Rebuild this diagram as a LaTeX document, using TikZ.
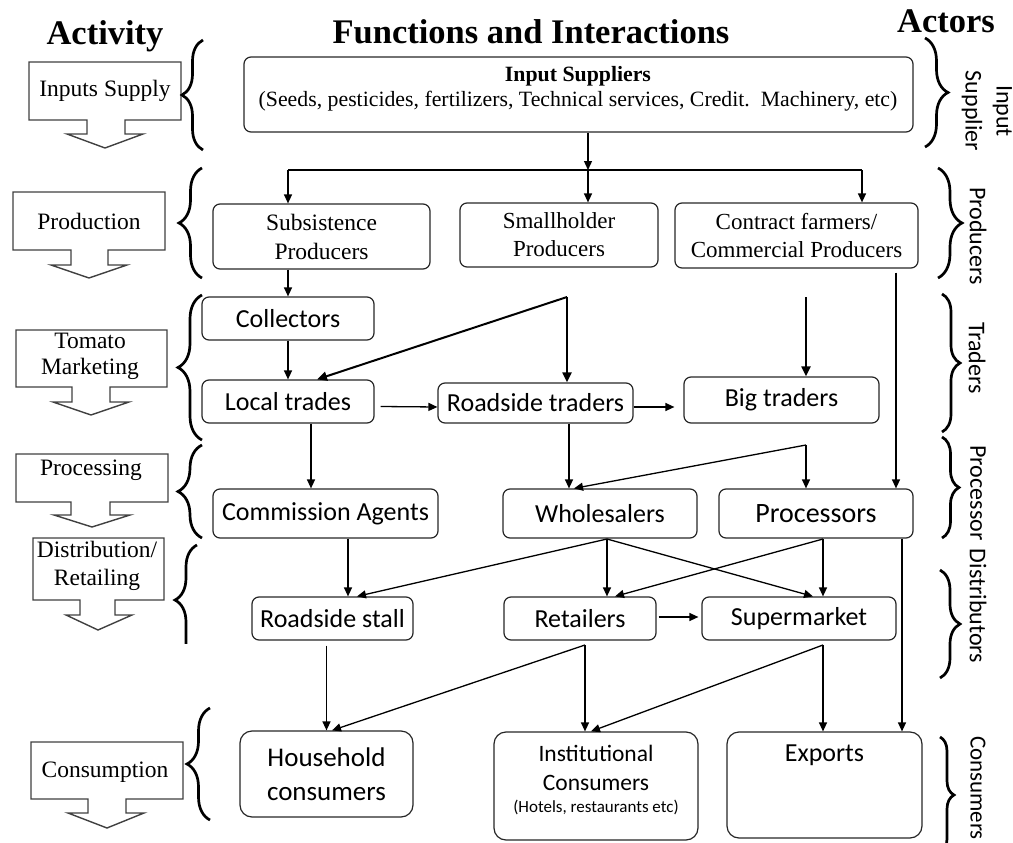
\documentclass[tikz,border=0pt]{standalone}
\usepackage{fontspec}
\setmainfont{Liberation Serif}
\newfontfamily\calibri{Carlito}
\usetikzlibrary{arrows.meta,decorations.pathreplacing,calc}
\begin{document}
\begin{tikzpicture}[x=1pt,y=-1pt,
  box/.style={draw=black!85, line width=1.2pt, rounded corners=7pt, inner sep=0pt, align=center},
  cal/.style={font=\calibri\fontsize{26}{31}\selectfont},
  tms/.style={font=\fontsize{23.5}{28}\selectfont, align=center, inner sep=0pt},
  arr/.style={line width=1.3pt, -{Triangle[length=9pt,width=8pt]}},
  tarr/.style={line width=2pt, -{Triangle[length=10pt,width=9pt]}},
  ln/.style={line width=1.3pt},
  actshape/.style={draw=black!75, line width=1.4pt, fill=white},
  brc/.style={decorate, decoration={brace,amplitude=#1}, line width=2.7pt},
  rl/.style={font=\calibri\fontsize{24}{31}\selectfont, rotate=-90, align=center, inner sep=0pt},
  hdr/.style={font=\bfseries\fontsize{34.5}{38}\selectfont, anchor=base, inner sep=0pt}
]
\useasboundingbox (0,0) rectangle (1013,843);
\clip (0,0) rectangle (1013,843);

% headers
\node[hdr] (hAct) at (105,45) {Activity};
\node[hdr] (hFun) at (531,44) {Functions and Interactions};
\node[hdr] (hAct2) at (946,33) {Actors};

% activity shapes
\draw[actshape] (29,62) -- (181,62) -- (181,120) -- (125,120) -- (125,134) -- (143,134) -- (105,148) -- (67,134) -- (87,134) -- (87,120) -- (29,120) -- cycle;
\node[tms] (actA) at (105,91) {Inputs Supply};
\draw[actshape] (13,192) -- (165,192) -- (165,250) -- (108,250) -- (108,265) -- (127,265) -- (89,278) -- (51,265) -- (71,265) -- (71,250) -- (13,250) -- cycle;
\node[tms] (actB) at (89,221) {Production};
\draw[actshape] (16,330) -- (167,330) -- (167,387) -- (110,387) -- (110,402) -- (129,402) -- (91,415) -- (53,402) -- (72,402) -- (72,387) -- (16,387) -- cycle;
\node[tms, font=\fontsize{23.5}{26}\selectfont] (actC) at (90,356) {Tomato\\Marketing};
\draw[actshape] (16,454) -- (168,454) -- (168,502) -- (110,502) -- (110,515) -- (130,515) -- (92,527) -- (54,515) -- (71,515) -- (71,502) -- (16,502) -- cycle;
\node[tms] (actD) at (91,470) {Processing};
\draw[actshape] (33,538) -- (164,538) -- (164,600) -- (115,600) -- (115,615) -- (132,615) -- (98,630) -- (66,615) -- (80,615) -- (80,600) -- (33,600) -- cycle;
\node[tms] (actE) at (97,566) {Distribution/\\Retailing};
\draw[actshape] (31,742) -- (183,742) -- (183,799) -- (126,799) -- (126,813) -- (144,813) -- (107,828) -- (68,813) -- (88,813) -- (88,799) -- (31,799) -- cycle;
\node[tms] (actF) at (105,772) {Consumption};

% left braces
\draw[brc=21pt] (203,150) -- (203,40);
\draw[brc=23pt] (202,278) -- (202,168);
\draw[brc=24pt] (202,440) -- (202,295);
\draw[brc=24pt] (202,538) -- (202,445);
\begin{scope}
\clip (150,540) rectangle (230,643);
\draw[decorate, decoration={brace,amplitude=22pt,aspect=0.645}, line width=2.7pt] (197,700) -- (197,545);
\end{scope}
\draw[brc=23pt] (210,820) -- (210,708);

% right braces
\draw[brc=23pt] (925,38) -- (925,147);
\draw[brc=24pt] (938,168) -- (938,278);
\draw[brc=18pt] (942,294) -- (942,432);
\draw[brc=17pt] (942,437) -- (942,538);
\draw[brc=20pt] (940,570) -- (940,678);
\draw[brc=14pt] (940,737) -- (940,853);

% right labels
\node[rl] (lIn) at (987,111) {Input\\Supplier};
\node[rl] (lPr) at (978,236) {Producers};
\node[rl] (lTr) at (977,358) {Traders};
\node[rl] (lPc) at (978,493) {Processor};
\node[rl] (lDi) at (978,606) {Distributors};
\node[rl, font=\calibri\fontsize{23}{28}\selectfont] (lCo) at (978,788) {Consumers};

% main boxes
\node[box, minimum width=669pt, minimum height=75pt] (insup) at (578.5,94.5) {};
\node[align=center, inner sep=0pt, font=\fontsize{21.8}{25}\selectfont] (insuptxt) at (578,89) {\textbf{Input Suppliers}\\(Seeds, pesticides, fertilizers, Technical services, Credit.\ \ Machinery, etc)};
\node[box, tms, minimum width=217pt, minimum height=65pt, font=\fontsize{23.5}{29}\selectfont] (subs) at (321.5,236.5) {Subsistence\\Producers};
\node[box, tms, minimum width=198pt, minimum height=64pt, font=\fontsize{23}{28}\selectfont] (small) at (559,235) {Smallholder\\Producers};
\node[box, minimum width=243pt, minimum height=65pt, font=\fontsize{23}{28}\selectfont] (contr) at (796.5,235.5) {Contract farmers/\\Commercial Producers};

\node[box, cal, minimum width=172pt, minimum height=43pt] (coll) at (288,318.5) {Collectors};
\node[box, cal, minimum width=172pt, minimum height=43pt] (local) at (288,401.5) {Local trades};
\node[box, cal, minimum width=195pt, minimum height=40pt] (road) at (535.5,403) {Roadside traders};
\node[box, cal, minimum width=195pt, minimum height=46pt] (big) at (781.5,400) {Big traders};
\node[box, cal, minimum width=225pt, minimum height=49pt] (comm) at (325.5,513.5) {Commission Agents};
\node[box, cal, minimum width=194pt, minimum height=49pt] (whole) at (600,513.5) {Wholesalers};
\node[box, minimum width=194pt, minimum height=49pt, font=\calibri\fontsize{28}{32}\selectfont] (proc) at (816,513.5) {Processors};
\node[box, cal, minimum width=161pt, minimum height=43pt] (stall) at (332.5,618.5) {Roadside stall};
\node[box, cal, minimum width=152pt, minimum height=43pt] (ret) at (580,618.5) {Retailers};
\node[box, cal, minimum width=194pt, minimum height=43pt] (sup) at (799,618.5) {Supermarket};
\node[box, minimum width=173pt, minimum height=86pt, rounded corners=12pt, font=\calibri\fontsize{27}{34}\selectfont] (house) at (326.5,774) {Household\\consumers};
\node[box, minimum width=204pt, minimum height=108pt, rounded corners=12pt] (inst) at (596,786) {};
\node[align=center, inner sep=0pt, font=\calibri\fontsize{23.5}{29}\selectfont] (insttxt) at (596,768) {Institutional\\Consumers};
\node[inner sep=0pt, font=\calibri\fontsize{17}{20}\selectfont] (insthot) at (596,807) {(Hotels, restaurants etc)};
\node[box, minimum width=195pt, minimum height=106pt, rounded corners=12pt] (exp) at (824.5,785) {};
\node[cal, inner sep=0pt] (exptxt) at (824.5,755) {Exports};

% coordinates
\coordinate (s0) at (588,170);
\coordinate (s1) at (288,170);
\coordinate (s2) at (862,170);
\coordinate (a1) at (567,297);
\coordinate (a2) at (806,297);
\coordinate (a3) at (806,445);
\coordinate (a4) at (607,539);
\coordinate (a5) at (823,539);
\coordinate (a6) at (585,645);
\coordinate (a7) at (823,645);

% connectors
\draw[arr] (insup.south -| s0) -- (s0);
\draw[ln] (s1) -- (s2);
\draw[arr] (s1) -- (s1 |- subs.north);
\draw[arr] (s0) -- (s0 |- small.north);
\draw[arr] (s2) -- (s2 |- contr.north);
\draw[arr] (subs.south -| coll.north) -- (coll.north);
\draw[arr] (coll.south) -- (local.north);
\draw[tarr] (a1) -- (local.north -| 317,0);
\draw[tarr] (a1) -- (a1 |- road.north);
\draw[arr] ([xshift=6pt,yshift=-5pt]local.east) -- ([yshift=-4pt]road.west);
\draw[arr] ([yshift=-4pt]road.east) -- ([xshift=-9pt,yshift=-7pt]big.west);
\draw[tarr] (a2) -- (a2 |- big.north);
\draw[arr] ($(contr.south -| 896,0)+(0,4)$) -- (proc.north -| 896,0);
\draw[arr] (local.south -| 311,0) -- (comm.north -| 311,0);
\draw[arr] (road.south -| 569,0) -- (whole.north -| 569,0);
\draw[arr] (a3) -- (a3 |- proc.north);
\draw[arr] (a3) -- (whole.north -| 574,0);
\draw[arr] (comm.south -| 348,0) -- (stall.north -| 348,0);
\draw[arr] (a4) -- (stall.north -| 357,0);
\draw[arr] (a4) -- (a4 |- ret.north);
\draw[arr] (a4) -- (sup.north -| 813,0);
\draw[arr] (a5) -- (ret.north -| 615,0);
\draw[arr] (a5) -- (a5 |- sup.north);
\draw[arr] (proc.south -| 902,0) -- (exp.north -| 902,0);
\draw[arr] ([xshift=2pt,yshift=1.5pt]ret.east) -- ([xshift=-3pt,yshift=1.5pt]sup.west);
\draw[arr] ($(stall.south -| house.north)+(0,5)$) -- (house.north);
\draw[arr] (a6) -- (house.north -| 332,0);
\draw[arr] (a6) -- (a6 |- inst.north);
\draw[arr] (a7) -- (inst.north -| 591,0);
\draw[arr] (a7) -- (a7 |- exp.north);
\end{tikzpicture}
\end{document}
